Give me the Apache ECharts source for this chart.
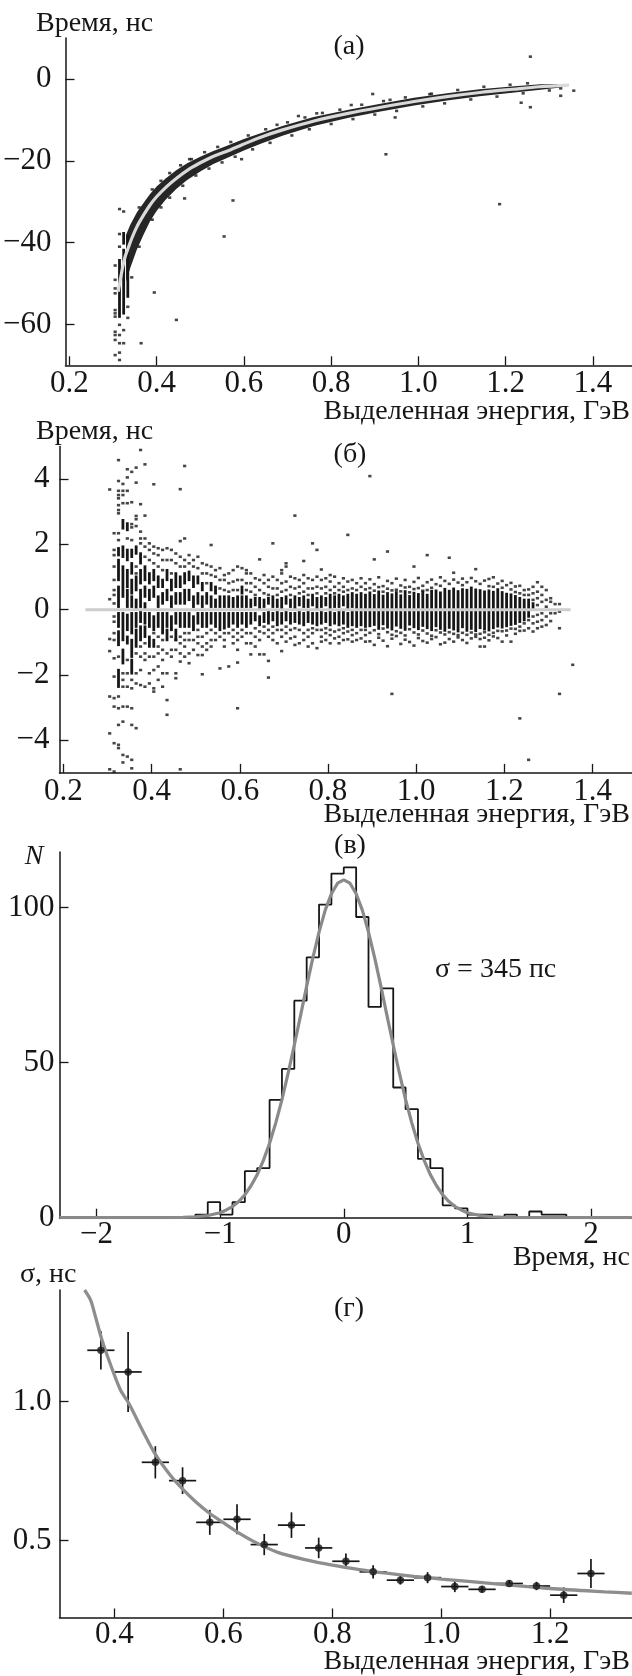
<!DOCTYPE html>
<html><head><meta charset="utf-8">
<script src="https://cdn.jsdelivr.net/npm/echarts@6.0.0/dist/echarts.min.js"></script>
<style>html,body{margin:0;padding:0;background:#fff}#c{width:632px;height:1676px}</style>
</head><body><div id="c"></div>
<script>
// ---------------- DATA ----------------
// Panel (а): time vs deposited energy
const aCurveX = [0.312,0.321,0.328,0.336,0.343,0.355,0.370,0.385,0.400,0.423,0.445,0.472,0.498,0.528,0.558,0.596,0.634,0.687,0.763,0.839,0.914,0.990,1.065,1.141,1.217,1.277,1.345];
const aCurveY = [-52.0,-46.7,-43.4,-41.0,-39.0,-36.1,-33.3,-30.8,-28.8,-26.3,-24.3,-22.2,-20.6,-19.0,-17.8,-16.1,-14.4,-12.5,-10.2,-8.4,-6.9,-5.5,-4.3,-3.3,-2.5,-1.9,-1.5];
const aBandX     = [0.330,0.340,0.355,0.370,0.385,0.400,0.420,0.445,0.470,0.500,0.530,0.560,0.600,0.640,0.690,0.760,0.840,0.910,0.990,1.070,1.140,1.220,1.280,1.330];
const aBandUpper = [-38.1,-35.6,-32.6,-30.3,-28.1,-26.3,-24.4,-22.3,-20.6,-19.0,-17.6,-16.4,-14.7,-13.2,-11.4,-9.3,-7.5,-6.1,-4.6,-3.4,-2.5,-1.8,-1.3,-1.2];
const aBandLower = [-49.6,-46.1,-41.6,-38.1,-34.8,-32.3,-29.6,-26.9,-24.7,-22.6,-20.8,-19.4,-17.5,-15.8,-13.8,-11.5,-9.5,-8.0,-6.5,-5.2,-4.2,-3.3,-2.6,-2.0];
// columns: [energy, single points, stacked runs (lo,hi pairs)]
const aColumns = [
 [0.305,[-45.6,-49.1,-51.2,-52.4,-56.5,-57.3,-58.1,-61.8,-62.6,-63.8,-67.5],[]],
 [0.315,[-31.8,-37.9,-41.0,-60.1,-62.6,-64.6,-66.9,-68.7],[-58.1,-44.3]],
 [0.3245,[-32.4,-61.4,-64.6],[-40.2,-37.7,-57.3,-41.8]],
 [0.334,[-55.7,-58.4],[-53.2,-38.5]],
 [0.343,[-48.5],[]]
];
const aEdgeUpper = [[0.36,-31.4],[0.39,-27.0],[0.41,-24.9],[0.43,-23.0],[0.455,-21.1],[0.48,-19.6],[0.51,-17.9],[0.54,-16.6],[0.57,-15.4],[0.61,-13.8],[0.65,-12.3],[0.70,-10.6],[0.74,-9.4],[0.78,-8.3],[0.82,-7.5],[0.87,-6.3],[0.92,-5.4],[0.97,-4.5],[1.03,-3.6],[1.09,-2.7],[1.15,-1.9],[1.21,-1.4],[1.25,-1.05]];
const aEdgeLower = [[0.36,-41.0],[0.39,-34.4],[0.41,-31.4],[0.43,-29.0],[0.46,-26.1],[0.49,-23.6],[0.52,-21.9],[0.55,-20.4],[0.58,-19.0],[0.62,-17.2],[0.66,-15.6],[0.71,-13.8],[0.75,-12.3],[0.80,-11.0],[0.85,-9.8],[0.90,-8.7],[0.95,-7.8],[1.01,-6.7],[1.06,-5.95],[1.12,-5.0],[1.18,-4.3],[1.24,-3.5],[1.30,-2.8]];
const aOutliers = [[0.3645,-64.6],[0.3947,-52.2],[0.4453,-58.9],[0.4642,-29.2],[0.4755,-19.6],[0.5547,-38.5],[0.575,-29.7],[0.5947,-19.6],
 [0.676,-11.2],[0.725,-9.05],[0.767,-8.4],[0.846,-6.36],[0.8952,-3.67],[0.9255,-18.4],[0.935,-5.1],[0.9466,-9.4],
 [1.026,-3.7],[1.186,-30.6],[1.2354,-5.8],[1.2565,5.46],[1.2565,-6.9],
 [1.326,-2.3],[1.326,-4.1],[1.356,-2.85]];

// Panel (б): residual time vs energy
const bFitX = [0.25, 1.35];
const bFitY = [0, 0];
const bColumns = [
 [0.305,[3.68,0.32,-0.90,-1.27,-2.66,-3.79,-4.89],[]],
 [0.315,[2.34,1.83,1.67,1.32,0.91,0.60,0.45,0.19,-0.21,-0.37,-0.72,-0.93,-1.49,-2.05,-2.71,-2.97,-4.09,-4.96],[]],
 [0.325,[4.58,3.94,3.64,3.51,3.41,3.20,3.05,2.95,2.34,2.13,-1.44,-2.66,-3.02,-3.53,-4.14,-4.24],[1.67,1.88,0.91,1.52,0.09,0.70,-0.52,-0.11,-1.08,-0.67,-2.36,-1.85]],
 [0.335,[3.85,3.64,3.51,3.26,-1.95,-2.15,-2.36,-2.97,-3.43,-4.45,-4.68],[2.49,2.74,1.62,1.93,0.40,1.32,-0.93,-0.11,-1.64,-1.23]],
 [0.345,[4.30,4.05,3.64,3.26,2.18,-1.54,-1.95,-2.36,-2.97,-4.50],[2.44,2.64,1.52,1.83,0.70,1.21,0.09,0.60,-0.62,-0.16,-1.03,-0.83]],
 [0.355,[4.22,3.29,2.62,2.52,2.13,-2.15,-2.41,-3.02,-3.53,-4.60,-4.86],[1.62,1.83,1.11,1.42,0.50,0.91,0.09,0.40,-0.72,-0.11,-1.44,-0.93,-1.95,-1.54]],
 [0.365,[4.35,3.89,2.87,2.77,2.56,1.32,1.11,-1.34,-1.95,-2.26,-3.63],[1.72,1.93,0.60,1.01,0.04,0.30,-0.52,-0.11,-1.13,-0.62]],
 [0.375,[4.89,3.23,2.39,2.18,2.03,-1.13,-1.44,-1.85,-2.31],[1.42,1.72,0.81,1.21,0.09,0.60,-0.37,-0.06,-0.93,-0.52]],
 [0.385,[4.45,2.88,2.18,1.93,1.62,-1.03,-1.34,-1.54,-2.36],[0.91,1.32,0.40,0.70,0.04,0.19,-0.42,-0.11,-0.83,-0.52]],
 [0.395,[2.03,1.83,1.52,-1.44,-1.95,-2.26],[0.81,1.11,0.30,0.60,-0.52,-0.11,-1.13,-0.83]],
 [0.405,[3.84,1.93,1.72,1.42,-0.72,-1.44,-1.85,-2.41,-2.51],[0.91,1.21,0.40,0.70,-0.62,-0.21,-1.13,-0.93]],
 [0.415,[1.88,1.67,1.32,-0.83,-1.13,-1.34,-1.74,-2.15],[0.70,1.01,0.09,0.40,-0.52,-0.11]],
 [0.425,[1.83,1.52,1.21,-0.93,-1.23,-1.54,-1.95,-2.36],[0.70,0.91,0.19,0.50,-0.72,-0.11]],
 [0.435,[1.88,1.52,-1.34,-1.95,-2.77,-3.22],[0.91,1.21,0.30,0.60,-0.52,-0.11,-0.93,-0.62]],
 [0.445,[1.83,1.52,1.11,-0.83,-1.23,-1.44],[0.60,0.91,0.09,0.40,-0.62,-0.21]],
 [0.455,[1.72,1.42,-0.93,-1.23,-1.95,-2.10],[0.70,1.11,0.19,0.50,-0.42,-0.11,-0.93,-0.62]],
 [0.465,[3.69,2.10,1.62,1.32,-0.83,-1.03,-1.34,-1.59,-4.89],[0.70,1.01,0.19,0.50,-0.52,-0.11]],
 [0.475,[4.40,2.18,1.52,1.32,-0.72,-0.93,-1.13,-1.44],[0.81,1.11,0.19,0.60,-0.52,-0.11]],
 [0.485,[1.67,1.42,-0.72,-0.93,-1.34,-1.64],[0.91,1.16,0.30,0.60,-0.52,-0.11]],
 [0.495,[1.52,1.32,-0.93,-1.23],[0.70,1.01,0.09,0.40,-0.62,-0.21]],
 [0.505,[1.62,1.27,-0.62,-0.83,-1.03,-1.39],[0.81,1.01,0.19,0.50,-0.42,-0.11]],
 [0.515,[1.42,1.11,-0.83,-1.13,-1.39,-1.98],[0.60,0.81,0.09,0.40,-0.52,-0.11]],
 [0.525,[1.37,1.11,0.81,-0.72,-1.03,-1.23],[0.19,0.50,-0.52,-0.11]],
 [0.535,[1.98,1.32,1.06,-0.62,-0.93,-1.13],[0.60,0.81,0.09,0.40,-0.42,-0.11]],
 [0.545,[1.21,1.01,-0.72,-0.93],[0.50,0.70,0.09,0.30,-0.52,-0.11]],
 [0.555,[1.27,0.91,0.65,-0.83,-1.80],[0.09,0.40,-0.62,-0.11]],
 [0.565,[1.06,0.91,0.60,-0.72,-0.93,-1.13],[0.09,0.40,-0.57,-0.11]],
 [0.575,[1.11,0.81,0.55,-0.72,-1.74],[0.09,0.40,-0.52,-0.11]],
 [0.585,[1.21,0.86,0.60,-0.62,-0.83,-1.03],[0.09,0.35,-0.42,-0.11]],
 [0.595,[1.32,0.91,0.60,-0.72,-0.93,-1.23,-1.62,-3.02],[0.09,0.40,-0.52,-0.11]],
 [0.605,[1.27,0.91,-0.62,-0.83],[0.50,0.70,0.09,0.40,-0.42,-0.11]],
 [0.615,[1.21,1.11,0.81,0.60,-0.72,-1.03],[0.09,0.40,-0.52,-0.11]],
 [0.625,[1.11,0.81,0.55,-0.72,-1.03,-1.37],[0.09,0.30,-0.42,-0.11]],
 [0.635,[0.96,0.70,0.45,-0.57,-0.83,-1.13],[0.14,0.35,-0.32,-0.11]],
 [0.645,[1.54,0.91,0.60,-0.67,-0.93,-1.37],[0.04,0.35,-0.47,-0.21]],
 [0.655,[1.06,0.81,0.50,-0.52,-0.72,-1.37],[0.09,0.30,-0.37,-0.11]],
 [0.665,[0.91,0.70,0.45,-0.62,-0.83,-1.57,-2.08],[0.19,0.35,-0.42,-0.06]],
 [0.675,[2.03,1.01,0.65,-0.52,-0.72,-0.93],[0.09,0.40,-0.32,-0.11]],
 [0.685,[0.91,0.65,0.45,-0.62,-1.03],[0.09,0.30,-0.47,-0.06]],
 [0.695,[1.21,1.11,0.81,0.55,-0.62,-0.83,-1.27],[0.04,0.35,-0.42,-0.11]],
 [0.705,[1.42,1.32,0.86,0.60,-0.52,-0.72,-0.98],[0.19,0.40,-0.32,-0.06]],
 [0.715,[1.01,0.70,0.45,-0.62,-0.88],[0.09,0.30,-0.42,-0.11]],
 [0.725,[2.88,0.96,0.65,-0.57,-0.83,-1.08],[0.04,0.40,-0.37,-0.11]],
 [0.735,[0.91,0.70,0.50,-0.62,-1.03],[0.14,0.35,-0.42,-0.06]],
 [0.745,[1.49,1.06,0.81,0.55,-0.72,-0.93],[0.09,0.40,-0.47,-0.11]],
 [0.755,[0.96,0.65,0.45,-0.62,-0.83,-1.13],[0.09,0.30,-0.37,-0.06]],
 [0.765,[2.03,0.91,0.65,-0.57,-0.72,-1.03],[0.14,0.45,-0.42,-0.11]],
 [0.775,[1.83,1.01,0.70,0.50,-0.62,-1.18],[0.04,0.35,-0.47,-0.11]],
 [0.785,[1.23,0.91,0.65,-0.62,-0.83,-0.98],[0.09,0.40,-0.42,-0.06]],
 [0.795,[0.96,0.70,0.50,-0.57,-0.72,-0.93],[0.14,0.35,-0.37,-0.11]],
 [0.805,[1.06,0.86,0.60,-0.62,-0.78,-1.03],[0.04,0.45,-0.47,-0.06]],
 [0.815,[1.01,0.70,0.50,-0.67,-0.88],[0.09,0.40,-0.42,-0.11]],
 [0.825,[0.81,0.60,-0.62,-0.83,-1.03],[0.09,0.45,-0.47,-0.06]],
 [0.835,[0.96,0.70,0.55,-0.57,-0.72,-0.93],[0.14,0.40,-0.42,-0.06]],
 [0.845,[2.29,0.86,0.60,-0.67,-0.91],[0.04,0.45,-0.52,-0.11]],
 [0.855,[0.91,0.65,-0.62,-0.78,-0.98],[0.09,0.50,-0.47,-0.06]],
 [0.865,[0.81,0.60,-0.72,-0.93],[0.04,0.45,-0.52,-0.06]],
 [0.875,[0.96,0.70,-0.62,-0.88],[0.04,0.50,-0.47,-0.06]],
 [0.885,[0.81,0.62,-0.62,-0.78,-0.98],[0.04,0.45,-0.52,-0.06]],
 [0.895,[4.09,0.93,0.66,-0.71,-0.97],[0.04,0.52,-0.50,-0.06]],
 [0.905,[1.54,0.78,0.58,-0.63,-1.08],[0.04,0.44,-0.46,-0.06]],
 [0.915,[0.99,0.69,-0.75,-0.86],[0.04,0.55,-0.58,-0.06]],
 [0.925,[0.72,0.55,-0.58,-0.95],[0.04,0.42,-0.44,-0.06]],
 [0.935,[1.78,0.88,0.64,-0.69,-1.12],[0.04,0.50,-0.54,-0.06]],
 [0.945,[0.81,0.59,-0.77,-0.89,-2.58],[0.04,0.46,-0.60,-0.06]],
 [0.955,[0.95,0.61,-0.66,-0.81],[0.04,0.53,-0.48,-0.06]],
 [0.965,[0.74,0.56,-0.71,-1.05],[0.04,0.43,-0.55,-0.06]],
 [0.975,[0.91,0.68,-0.79,-0.92],[0.04,0.56,-0.61,-0.06]],
 [0.985,[0.70,0.53,-0.60,-0.99],[0.04,0.41,-0.45,-0.06]],
 [0.995,[1.32,0.85,0.63,-0.70,-1.10],[0.04,0.51,-0.53,-0.06]],
 [1.005,[0.97,0.66,-0.76,-0.87],[0.04,0.47,-0.59,-0.06]],
 [1.015,[0.73,0.58,-0.64,-0.96],[0.04,0.54,-0.49,-0.06]],
 [1.025,[1.67,0.84,0.60,-0.73,-1.01],[0.04,0.45,-0.56,-0.06]],
 [1.035,[0.92,0.67,-0.80,-0.90],[0.04,0.57,-0.62,-0.06]],
 [1.045,[0.78,-0.63,-0.84],[0.04,0.58,-0.50,-0.06]],
 [1.055,[0.99,0.73,-0.70,-1.06],[0.04,0.52,-0.58,-0.06]],
 [1.065,[0.88,-0.76,-1.01],[0.04,0.63,-0.64,-0.06]],
 [1.075,[1.59,0.79,-0.69,-0.90],[0.04,0.57,-0.55,-0.06]],
 [1.085,[1.13,0.92,-0.74,-0.98],[0.04,0.64,-0.60,-0.06]],
 [1.095,[0.83,-0.78,-0.85],[0.04,0.56,-0.66,-0.06]],
 [1.105,[0.95,0.75,-0.71,-0.93],[0.04,0.62,-0.53,-0.06]],
 [1.115,[0.84,-0.77,-1.02],[0.04,0.60,-0.64,-0.06]],
 [1.125,[0.97,-0.70,-0.88],[0.04,0.67,-0.58,-0.06]],
 [1.135,[1.24,0.87,-0.76,-0.83],[0.04,0.61,-0.65,-0.06]],
 [1.145,[0.79,-0.74,-0.90,-1.13],[0.04,0.59,-0.56,-0.06]],
 [1.155,[0.89,-0.69,-0.86,-1.13],[0.04,0.55,-0.60,-0.06]],
 [1.165,[0.94,0.72,-0.77,-0.94],[0.04,0.58,-0.63,-0.06]],
 [1.175,[0.99,0.70,-0.71,-0.82],[0.04,0.54,-0.56,-0.06]],
 [1.185,[0.80,-0.65,-0.87],[0.04,0.62,-0.51,-0.06]],
 [1.195,[0.88,0.67,-0.66,-0.98],[0.04,0.53,-0.54,-0.06]],
 [1.205,[0.75,-0.64,-0.79],[0.04,0.48,-0.50,-0.06]],
 [1.215,[0.82,0.62,-0.58,-0.98],[0.04,0.46,-0.46,-0.06]],
 [1.225,[0.71,0.54,-0.59,-0.74],[0.04,0.41,-0.43,-0.06]],
 [1.235,[0.73,0.50,-0.52,-0.65,-3.33],[0.04,0.35,-0.37,-0.06]],
 [1.245,[0.60,0.45,-0.42,-0.64],[0.04,0.30,-0.32,-0.06]],
 [1.255,[0.62,0.45,-0.32,-0.57,-4.60],[0.04,0.30,-0.21,-0.06]],
 [1.265,[0.70,0.50,0.30,-0.21,-0.42,-0.67],[0.04,0.19]],
 [1.275,[0.84,0.55,0.35,0.14,-0.16,-0.37,-0.57],[]],
 [1.285,[0.70,0.45,0.24,-0.11,-0.32,-0.52],[]],
 [1.295,[0.60,0.30,0.09,-0.21,-0.47],[]],
 [1.305,[0.35,0.24,-0.11,-0.35],[]],
 [1.315,[0.17,-0.11],[]],
 [1.325,[0.17,-0.06,-0.57,-2.58],[]],
 [1.355,[-1.69],[]]
];

// Panel (в): histogram of residuals, 0.1 ns bins
const vBinLeft = [-1.2,-1.1,-1.0,-0.9,-0.8,-0.7,-0.6,-0.5,-0.4,-0.3,-0.2,-0.1,0.0,0.1,0.2,0.3,0.4,0.5,0.6,0.7,0.8,0.9,1.0,1.1,1.2,1.3,1.4,1.5,1.6,1.7];
const vCounts  = [1,5,1,5,15,16,38,48,70,84,101,111,113,97,68,74,42,35,19,16,4,3,1,1,0,1,0,2,1,1];
const vBinWidth = 0.1;
const vFitX = [-2.3,-1.5,-1.3,-1.2,-1.1,-1.0,-0.95,-0.9,-0.85,-0.8,-0.75,-0.7,-0.65,-0.6,-0.55,-0.5,-0.45,-0.4,-0.35,-0.3,-0.25,-0.2,-0.15,-0.1,-0.05,0,0.05,0.1,0.15,0.2,0.25,0.3,0.35,0.4,0.45,0.5,0.55,0.6,0.65,0.7,0.75,0.8,0.85,0.9,0.95,1.0,1.1,1.2,1.3,1.5,2.33];
const vFitY = [0,0,0.1,0.3,0.7,1.6,2.5,3.6,5.2,7.4,10.3,13.9,18.5,24.0,30.6,38.1,46.6,55.7,65.1,74.7,83.8,92.1,99.2,104.5,107.9,109.0,107.9,104.5,99.2,92.1,83.8,74.7,65.1,55.7,46.6,38.1,30.6,24.0,18.5,13.9,10.3,7.4,5.2,3.6,2.5,1.6,0.7,0.3,0.1,0,0];

// Panel (г): resolution vs energy
const gX    = [0.375,0.425,0.475,0.525,0.575,0.625,0.675,0.725,0.775,0.825,0.875,0.925,0.975,1.025,1.075,1.125,1.175,1.225,1.275];
const gY    = [1.185,1.107,0.782,0.716,0.566,0.577,0.486,0.556,0.474,0.426,0.388,0.358,0.367,0.335,0.325,0.346,0.337,0.304,0.382];
const gYErr = [0.069,0.144,0.058,0.048,0.045,0.054,0.038,0.046,0.037,0.028,0.024,0.016,0.020,0.020,0.012,0.012,0.015,0.028,0.052];
const gXErr = [0.025,0.025,0.025,0.025,0.025,0.025,0.025,0.025,0.025,0.025,0.025,0.025,0.025,0.025,0.025,0.025,0.025,0.025,0.025];
const gFitX = [0.345,0.356,0.365,0.377,0.393,0.411,0.426,0.451,0.474,0.500,0.524,0.549,0.575,0.600,0.625,0.660,0.700,0.750,0.800,0.850,0.900,0.950,1.000,1.100,1.200,1.300,1.350];
const gFitY = [1.402,1.366,1.306,1.222,1.132,1.042,0.995,0.898,0.814,0.742,0.688,0.640,0.598,0.565,0.532,0.493,0.458,0.432,0.412,0.396,0.383,0.372,0.362,0.345,0.328,0.316,0.311];

// tick labels
const abXTicks = [0.2,0.4,0.6,0.8,1.0,1.2,1.4];
const aYTicks = [-60,-40,-20,0];
const bYTicks = [-4,-2,0,2,4];
const vXTicks = [-2,-1,0,1,2];
const vYTicks = [0,50,100];
const gXTicks = [0.4,0.6,0.8,1.0,1.2];
const gYTicks = [0.5,1.0];

// ---------------- CHART ----------------
const INK = '#161616';
const FONT = '"Liberation Serif", "Times New Roman", serif';
const zip = (xs, ys) => xs.map((x, i) => [x, ys[i]]);
const colPts = cols => { const o = []; cols.forEach(c => c[1].forEach(y => o.push([c[0], y]))); return o; };
const colStacks = cols => { const o = []; cols.forEach(c => { for (let i = 0; i < c[2].length; i += 2) o.push([c[0], Math.min(c[2][i], c[2][i+1]), Math.max(c[2][i], c[2][i+1])]); }); return o; };
const minus = v => (v < 0 ? '\u2212' : '') + Math.abs(v);
const fix1 = v => (Math.round(v * 10) / 10).toFixed(1);

function xAx(gi, min, max, ticks, fmt, margin) {
  return { type: 'value', gridIndex: gi, min, max, silent: true,
    axisLine: { onZero: false, lineStyle: { color: INK, width: 1.5 } },
    axisTick: { inside: true, length: 9, customValues: ticks, lineStyle: { color: INK, width: 1.3 } },
    axisLabel: { customValues: ticks, formatter: fmt, fontFamily: FONT, fontSize: 31, color: INK, margin },
    splitLine: { show: false } };
}
function yAx(gi, min, max, ticks, fmt, margin) {
  return { type: 'value', gridIndex: gi, min, max, silent: true,
    axisLine: { show: true, onZero: false, lineStyle: { color: INK, width: 1.5 } },
    axisTick: { show: true, inside: true, length: 9, customValues: ticks, lineStyle: { color: INK, width: 1.3 } },
    axisLabel: { customValues: ticks, formatter: fmt, fontFamily: FONT, fontSize: 31, color: INK, margin },
    splitLine: { show: false } };
}

const stackRender = (params, api) => {
  const x = api.value(0);
  const a = api.coord([x, api.value(1)]), b = api.coord([x, api.value(2)]);
  const top = Math.min(a[1], b[1]), h = Math.abs(a[1] - b[1]);
  return { type: 'rect', shape: { x: a[0] - 1.4, y: top - 1.2, width: 2.8, height: h + 2.4 }, style: { fill: INK } };
};
const markerStyle = { symbol: 'rect', symbolSize: [3.2, 2.6], itemStyle: { color: INK } };

const texts = [
  ['Время, нс', 36, 24, 'left', ''],
  ['(а)', 349, 47, 'center', ''],
  ['Выделенная энергия, ГэВ', 630, 412, 'right', ''],
  ['Время, нс', 36, 432, 'left', ''],
  ['(б)', 350, 455, 'center', ''],
  ['Выделенная энергия, ГэВ', 630, 815, 'right', ''],
  ['N', 34, 857, 'center', 'italic '],
  ['(в)', 350, 846, 'center', ''],
  ['σ = 345 пс', 435, 970, 'left', ''],
  ['Время, нс', 630, 1258, 'right', ''],
  ['σ, нс', 20, 1275, 'left', ''],
  ['(г)', 349, 1309, 'center', ''],
  ['Выделенная энергия, ГэВ', 630, 1662, 'right', '']
];

const chart = echarts.init(document.getElementById('c'), null, { renderer: 'canvas', width: 632, height: 1676 });
chart.setOption({
  animation: false,
  backgroundColor: '#fff',
  grid: [
    { left: 59.5, top: 38.1, width: 572.5, height: 327.2 },
    { left: 59.5, top: 446.4, width: 572.5, height: 326.5 },
    { left: 59.5, top: 851.9, width: 572.5, height: 365.8 },
    { left: 59.5, top: 1290, width: 572.5, height: 327.5 }
  ],
  xAxis: [
    xAx(0, 0.1912, 1.4894, abXTicks, fix1, 3),
    xAx(1, 0.1912, 1.4894, abXTicks, fix1, 3),
    xAx(2, -2.299, 2.331, vXTicks, minus, 2),
    xAx(3, 0.299, 1.3504, gXTicks, fix1, 2)
  ],
  yAxis: [
    yAx(0, -70, 10, aYTicks, minus, 14),
    yAx(1, -5, 5, bYTicks, minus, 10),
    yAx(2, 0, 118, vYTicks, v => String(v), 5),
    yAx(3, 0.2237, 1.4018, gYTicks, fix1, 8)
  ],
  graphic: texts.map(t => ({ type: 'text', x: t[1], y: t[2], silent: true,
    style: { text: t[0], font: t[4] + '28px ' + FONT, fill: INK, align: t[3], verticalAlign: 'middle', textAlign: t[3], textVerticalAlign: 'middle' } })),
  series: [
    // (а)
    { type: 'custom', xAxisIndex: 0, yAxisIndex: 0, silent: true, data: [[aBandX[0], aBandUpper[0]]],
      renderItem: (p, api) => {
        const pts = [];
        for (let i = 0; i < aBandX.length; i++) pts.push(api.coord([aBandX[i], aBandUpper[i]]));
        for (let i = aBandX.length - 1; i >= 0; i--) pts.push(api.coord([aBandX[i], aBandLower[i]]));
        return { type: 'polygon', shape: { points: pts }, style: { fill: '#262626' } };
      } },
    { type: 'custom', xAxisIndex: 0, yAxisIndex: 0, silent: true, data: colStacks(aColumns), renderItem: stackRender },
    Object.assign({ type: 'scatter', xAxisIndex: 0, yAxisIndex: 0, silent: true,
      data: colPts(aColumns).concat(aEdgeUpper, aEdgeLower, aOutliers) }, markerStyle),
    { type: 'line', xAxisIndex: 0, yAxisIndex: 0, silent: true, data: zip(aCurveX, aCurveY), symbol: 'none', smooth: 0.3,
      lineStyle: { color: '#d9d9d9', width: 3.2 }, z: 5 },
    // (б)
    { type: 'custom', xAxisIndex: 1, yAxisIndex: 1, silent: true, data: colStacks(bColumns), renderItem: stackRender },
    Object.assign({ type: 'scatter', xAxisIndex: 1, yAxisIndex: 1, silent: true, data: colPts(bColumns) }, markerStyle),
    { type: 'line', xAxisIndex: 1, yAxisIndex: 1, silent: true, data: zip(bFitX, bFitY), symbol: 'none',
      lineStyle: { color: '#cdcdcd', width: 3 }, z: 5 },
    // (в)
    { type: 'line', xAxisIndex: 2, yAxisIndex: 2, silent: true, step: 'end', symbol: 'none',
      data: [[vBinLeft[0], 0]].concat(zip(vBinLeft, vCounts)).concat([[vBinLeft[vBinLeft.length - 1] + vBinWidth, 0]]),
      lineStyle: { color: INK, width: 1.8 } },
    { type: 'line', xAxisIndex: 2, yAxisIndex: 2, silent: true, data: zip(vFitX, vFitY), symbol: 'none',
      lineStyle: { color: '#8a8a8a', width: 3.2 }, z: 5 },
    // (г)
    { type: 'custom', xAxisIndex: 3, yAxisIndex: 3, silent: true,
      data: gX.map((x, i) => [x, gY[i], gYErr[i], gXErr[i]]),
      renderItem: (p, api) => {
        const x = api.value(0), y = api.value(1), ey = api.value(2), ex = api.value(3);
        const t = api.coord([x, y + ey]), b = api.coord([x, y - ey]);
        const l = api.coord([x - ex, y]), r = api.coord([x + ex, y]);
        const st = { stroke: INK, lineWidth: 1.7 };
        return { type: 'group', children: [
          { type: 'line', shape: { x1: t[0], y1: t[1], x2: b[0], y2: b[1] }, style: st },
          { type: 'line', shape: { x1: l[0], y1: l[1], x2: r[0], y2: r[1] }, style: st } ] };
      } },
    { type: 'line', xAxisIndex: 3, yAxisIndex: 3, silent: true, data: zip(gFitX, gFitY), symbol: 'none', smooth: 0.3,
      lineStyle: { color: '#8e8e8e', width: 3.3 }, z: 3 },
    { type: 'scatter', xAxisIndex: 3, yAxisIndex: 3, silent: true, data: zip(gX, gY), symbol: 'circle', symbolSize: 7.5,
      itemStyle: { color: INK }, z: 6 }
  ]
});
</script></body></html>
